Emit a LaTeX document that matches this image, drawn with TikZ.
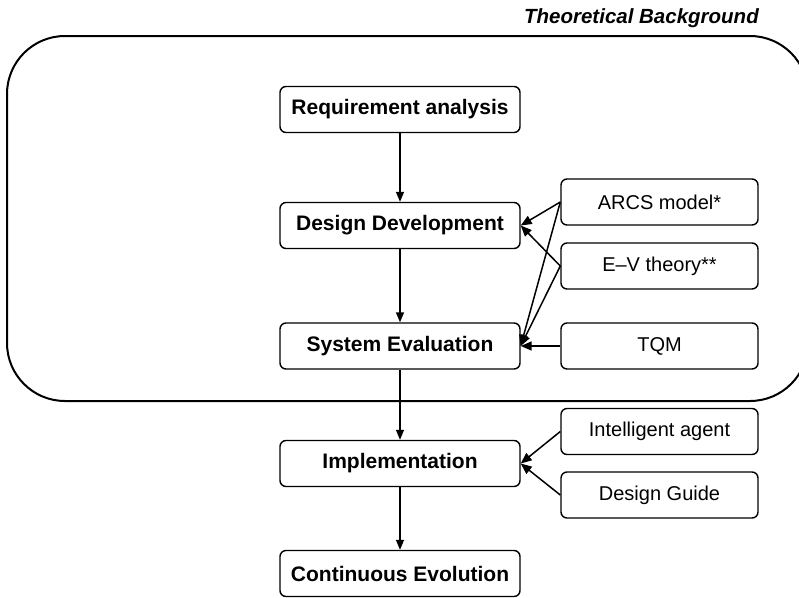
\documentclass[tikz,border=0pt]{standalone}
\usepackage{fontspec}
\setmainfont{Liberation Sans}
\usetikzlibrary{arrows.meta}
\begin{document}
\begin{tikzpicture}[x=1pt,y=-1pt,
  stagebox/.style={draw,line width=1.4pt,rounded corners=6pt,minimum width=240pt,minimum height=46pt,
    inner sep=0pt,font=\fontsize{21}{25}\selectfont\bfseries},
  sourcebox/.style={draw,line width=1.4pt,rounded corners=6pt,minimum width=197pt,minimum height=46pt,
    inner sep=0pt,font=\fontsize{20}{24}\selectfont},
  flow/.style={line width=1.4pt,-{Triangle[length=10pt,width=8pt]}},
  feed/.style={line width=1.5pt,-{Triangle[length=11pt,width=9pt]}}]
  \clip (0,0) rectangle (799,597);
  % frame of the theoretical background
  \draw[line width=2pt,rounded corners=58pt] (7,36) rectangle (808,401);
  \node[anchor=base east,inner sep=0pt,font=\fontsize{20.5}{24}\selectfont\bfseries\itshape] (title) at (759,23) {Theoretical Background};
  % process stages
  \node[stagebox] (req) at (400,109.5) {Requirement analysis};
  \node[stagebox] (dd) at (400,225.5) {Design Development};
  \node[stagebox] (se) at (400,346) {System Evaluation};
  \node[stagebox] (impl) at (400,463.5) {Implementation};
  \node[stagebox] (ce) at (400,573.5) {Continuous Evolution};
  % supporting sources
  \node[sourcebox] (arcs) at (659.5,202) {ARCS model*};
  \node[sourcebox] (ev) at (659.5,266) {E--V theory**};
  \node[sourcebox] (tqm) at (659.5,346) {TQM};
  \node[sourcebox] (ia) at (659.5,431.5) {Intelligent agent};
  \node[sourcebox] (dg) at (659.5,495) {Design Guide};
  % main flow
  \draw[flow] (req) -- (dd);
  \draw[flow] (dd) -- (se);
  \draw[flow] (se) -- (impl);
  \draw[flow] (impl) -- (ce);
  % influences
  \draw[feed] (arcs.west) -- (dd.east);
  \draw[feed] (ev.west) -- (dd.east);
  \draw[feed] (arcs.west) -- (se.east);
  \draw[feed] (ev.west) -- (se.east);
  \draw[feed] (tqm.west) -- (se.east);
  \draw[feed] (ia.west) -- (impl.east);
  \draw[feed] (dg.west) -- (impl.east);
\end{tikzpicture}
\end{document}
